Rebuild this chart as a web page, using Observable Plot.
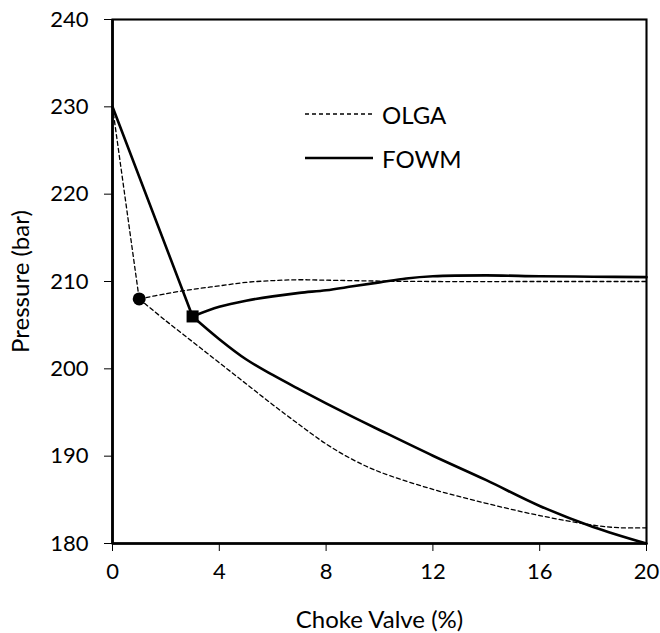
<!DOCTYPE html>
<html>
<head>
<meta charset="utf-8">
<script src="https://cdn.jsdelivr.net/npm/d3@7"></script>
<script src="https://cdn.jsdelivr.net/npm/@observablehq/plot@0.6"></script>
<style>
  body { margin: 0; background: #fff; font-family: Lato, "Open Sans", sans-serif; }
  #wrap { position: relative; width: 660px; height: 633px; }
  #wrap svg [aria-label="x-axis label"] text,
  #wrap svg [aria-label="y-axis label"] text { font-size: 24px; }
  .legend { position: absolute; left: 305px; top: 92px; font-size: 24px; color: #000; }
  .legend .row { display: flex; align-items: center; height: 44px; }
  .legend svg { width: 68px; height: 10px; margin-right: 9px; }
</style>
</head>
<body>
<div id="wrap"></div>
<script>
// Axis ticks
const xTicks = [0, 4, 8, 12, 16, 20];
const yTicks = [180, 190, 200, 210, 220, 230, 240];

// OLGA: initial drop to the operating point, then the two branches
const olgaRiseX = [0, 1];
const olgaRiseY = [230, 208];
const olgaUpperX = [1, 2, 3, 4, 5, 6, 7, 8, 10, 12, 16, 20];
const olgaUpperY = [208, 208.6, 209.1, 209.5, 209.9, 210.1, 210.2, 210.15, 210.05, 210, 210, 210];
const olgaLowerX = [1, 2, 3, 4, 5, 6, 7, 8, 9, 10, 12, 14, 16, 18, 19, 20];
const olgaLowerY = [208, 205.5, 203.1, 200.7, 198.3, 195.9, 193.6, 191.4, 189.6, 188.2, 186.2, 184.6, 183.2, 182.1, 181.8, 181.8];

// FOWM: initial drop to the operating point, then the two branches
const fowmRiseX = [0, 3];
const fowmRiseY = [230, 206];
const fowmUpperX = [3, 4, 5, 6, 7, 8, 9, 10, 11, 12, 14, 16, 18, 20];
const fowmUpperY = [206, 207.1, 207.8, 208.3, 208.7, 209.0, 209.45, 209.9, 210.35, 210.6, 210.7, 210.6, 210.55, 210.5];
const fowmLowerX = [3, 4, 5, 6, 7, 8, 9, 10, 12, 14, 16, 18, 20];
const fowmLowerY = [206, 203.4, 201.1, 199.3, 197.65, 196.05, 194.5, 193.0, 190.05, 187.25, 184.3, 181.9, 180];

// Bifurcation markers
const olgaPointX = [1];
const olgaPointY = [208];
const fowmPointX = [3];
const fowmPointY = [206];

function branch(name, xs, ys) {
  return xs.map((x, i) => ({branch: name, x, y: ys[i]}));
}

const olga = [
  ...branch("olga-rise", olgaRiseX, olgaRiseY),
  ...branch("olga-upper", olgaUpperX, olgaUpperY),
  ...branch("olga-lower", olgaLowerX, olgaLowerY)
];
const fowm = [
  ...branch("fowm-rise", fowmRiseX, fowmRiseY),
  ...branch("fowm-upper", fowmUpperX, fowmUpperY),
  ...branch("fowm-lower", fowmLowerX, fowmLowerY)
];
const olgaPts = olgaPointX.map((x, i) => ({x, y: olgaPointY[i]}));
const fowmPts = fowmPointX.map((x, i) => ({x, y: fowmPointY[i]}));

const chart = Plot.plot({
  width: 660,
  height: 633,
  marginLeft: 112,
  marginRight: 14,
  marginTop: 19,
  marginBottom: 90,
  style: {fontFamily: "Lato, 'Open Sans', sans-serif", fontSize: "22px", color: "#000", background: "#fff", overflow: "visible"},
  x: {domain: [0, 20]},
  y: {domain: [180, 240]},
  marks: [
    Plot.axisX({ticks: xTicks, tickSize: 8, tickPadding: 12, fontSize: 22, label: "Choke Valve (%)", labelAnchor: "center", labelArrow: "none", labelOffset: 84}),
    Plot.axisY({ticks: yTicks, tickSize: 8, tickPadding: 16, fontSize: 22, label: "Pressure (bar)", labelAnchor: "center", labelArrow: "none", labelOffset: 101}),
    Plot.line(olga, {x: "x", y: "y", z: "branch", curve: "catmull-rom", stroke: "#000", strokeWidth: 1.3, strokeDasharray: "4,3"}),
    Plot.line(fowm, {x: "x", y: "y", z: "branch", curve: "catmull-rom", stroke: "#000", strokeWidth: 2.6}),
    Plot.dot(olgaPts, {x: "x", y: "y", r: 6.5, fill: "#000", stroke: "none"}),
    Plot.dot(fowmPts, {x: "x", y: "y", r: 6.8, symbol: "square", fill: "#000", stroke: "none"}),
    Plot.frame({stroke: "#000", strokeWidth: 2.1}),
    Plot.ruleX([0], {stroke: "#000", strokeWidth: 2.7}),
    Plot.ruleY([180], {stroke: "#000", strokeWidth: 2.7})
  ]
});

const wrap = document.getElementById("wrap");
wrap.appendChild(chart);

// Series key
const legend = document.createElement("div");
legend.className = "legend";
legend.innerHTML = `
  <div class="row"><svg viewBox="0 0 68 10"><line x1="0" y1="5" x2="68" y2="5" stroke="#000" stroke-width="1.3" stroke-dasharray="4,3"/></svg><span>OLGA</span></div>
  <div class="row"><svg viewBox="0 0 68 10"><line x1="0" y1="5" x2="68" y2="5" stroke="#000" stroke-width="2.6"/></svg><span>FOWM</span></div>`;
wrap.appendChild(legend);
</script>
</body>
</html>
